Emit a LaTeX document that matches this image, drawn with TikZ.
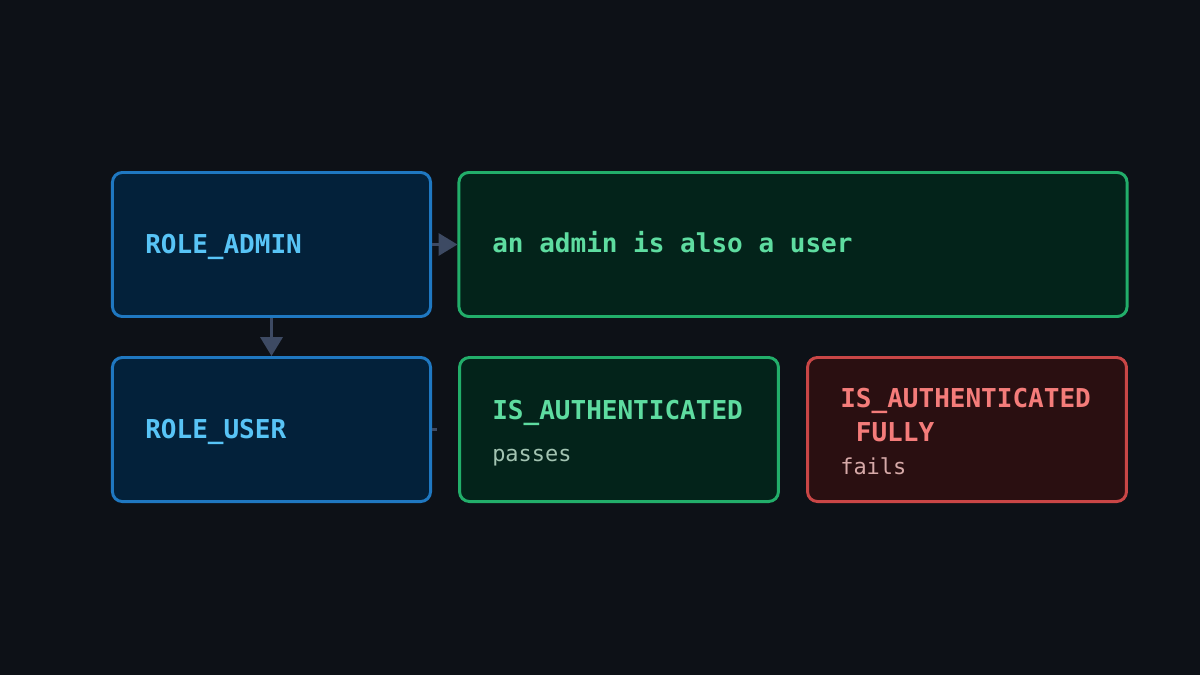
\documentclass[tikz,border=0pt]{standalone}
\usepackage{fontspec}
\setmonofont{DejaVu Sans Mono}
\usetikzlibrary{arrows.meta}

\definecolor{bgdark}{HTML}{0D1117}
\definecolor{roleline}{HTML}{1F78C1}
\definecolor{rolefill}{HTML}{03213A}
\definecolor{roletext}{HTML}{58C4F6}
\definecolor{passline}{HTML}{22AE6A}
\definecolor{passfill}{HTML}{03231A}
\definecolor{passtext}{HTML}{5EDCA0}
\definecolor{passnote}{HTML}{A3C4B2}
\definecolor{failline}{HTML}{C94646}
\definecolor{failfill}{HTML}{2A0F11}
\definecolor{failtext}{HTML}{F47C7A}
\definecolor{failnote}{HTML}{D6A9A8}
\definecolor{wirecol}{HTML}{3D4A63}

\begin{document}
\begin{tikzpicture}[x=0.025cm, y=-0.025cm,
    box/.style={draw, rounded corners=7pt, line width=2.1pt, inner sep=0pt},
    rolebox/.style={box, draw=roleline, fill=rolefill, minimum width=7.95cm, minimum height=3.6cm},
    title/.style={anchor=base west, inner sep=0pt, font=\ttfamily\bfseries\fontsize{18.5}{22}\selectfont},
    note/.style={anchor=base west, inner sep=0pt, font=\ttfamily\fontsize{15.6}{19}\selectfont},
    wire/.style={draw=wirecol, line width=2.1pt, -{Triangle[length=0.47cm, width=0.55cm]}}]

    % background and margins
    \fill[bgdark] (0,0) rectangle (1200,675);
    \useasboundingbox (0,0) rectangle (1200,675);

    % LEFT: roles
    \node[rolebox] (admin) at (271.5,244.5) {};
    \node[title, text=roletext] (admintxt) at (145,253) {ROLE\_ADMIN};

    \node[rolebox] (user) at (271.5,429.5) {};
    \node[title, text=roletext] (usertxt) at (145,438) {ROLE\_USER};

    % TOP: explanation
    \node[box, draw=passline, fill=passfill, minimum width=16.7cm, minimum height=3.6cm] (also) at (793,244.5) {};
    \node[title, text=passtext] (alsotxt) at (492,252) {an admin is also a user};

    % BOTTOM: checks
    \node[box, draw=passline, fill=passfill, minimum width=7.97cm, minimum height=3.6cm] (auth) at (619,429.5) {};
    \node[title, text=passtext] (authtxt) at (492,419) {IS\_AUTHENTICATED};
    \node[note, text=passnote] (authnote) at (492,461) {passes};

    \node[box, draw=failline, fill=failfill, minimum width=7.97cm, minimum height=3.6cm] (full) at (967,429.5) {};
    \node[title, text=failtext] (fulltxt) at (840,407) {IS\_AUTHENTICATED};
    \node[title, text=failtext] (fulltxt2) at (840,441) {\hspace*{0.6em}FULLY};
    \node[note, text=failnote] (fullnote) at (840,474) {fails};

    % connectors
    \draw[wire] (admin.east) -- (also.west);
    \draw[wire] (admin.south) -- (user.north);
    \coordinate (stub) at ([xshift=0.13cm]user.east);
    \draw[draw=wirecol, line width=2.1pt] (user.east) -- (stub);
\end{tikzpicture}
\end{document}
